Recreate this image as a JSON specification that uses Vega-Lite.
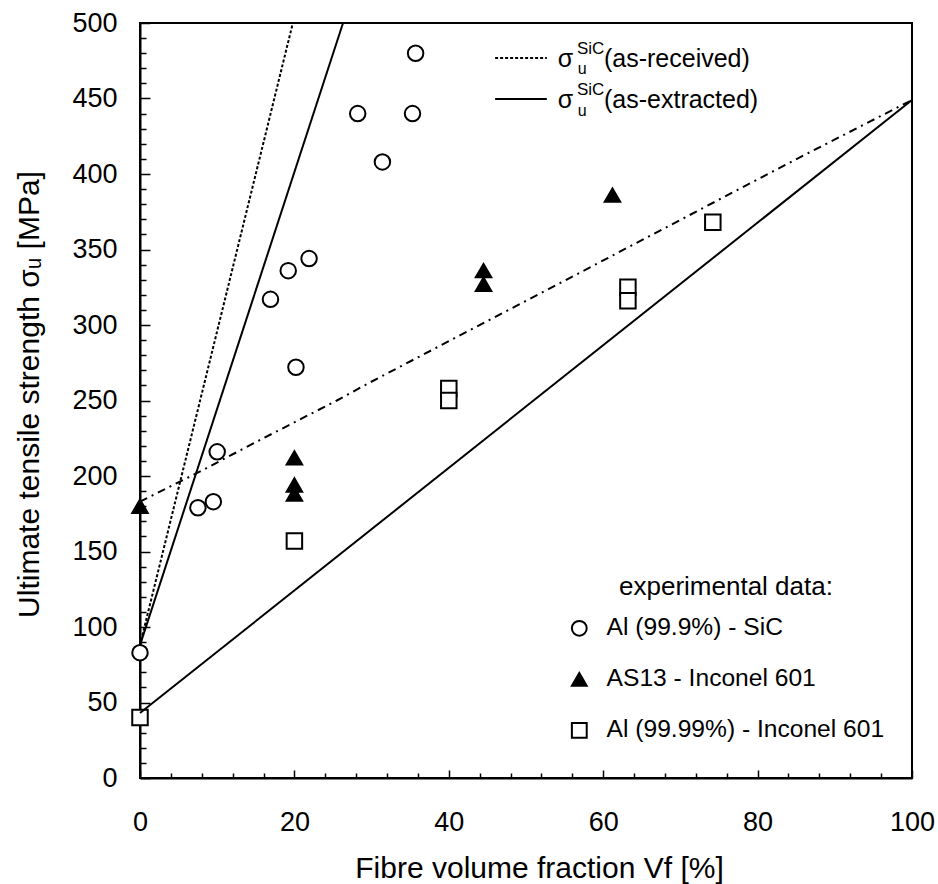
{
  "$schema": "https://vega.github.io/schema/vega-lite/v6.json",
  "width": 772,
  "height": 755,
  "autosize": "none",
  "padding": {"left": 140, "top": 23, "right": 26, "bottom": 106},
  "background": "white",
  "config": {
    "view": {"stroke": "black", "strokeWidth": 2},
    "font": "Liberation Sans",
    "axis": {
      "grid": false,
      "domainColor": "black",
      "domainWidth": 2,
      "tickColor": "black",
      "tickWidth": 1.5,
      "labelColor": "black",
      "titleColor": "black",
      "labelFont": "Liberation Sans",
      "titleFont": "Liberation Sans",
      "labelFontSize": 27,
      "titleFontSize": 30,
      "titleFontWeight": "normal",
      "labelOverlap": false,
      "labelFlush": false
    }
  },
  "datasets": {
    "points": [
      {"vf": 0, "s": 83, "series": "Al (99.9%) - SiC"},
      {"vf": 7.5, "s": 179, "series": "Al (99.9%) - SiC"},
      {"vf": 9.5, "s": 183, "series": "Al (99.9%) - SiC"},
      {"vf": 10, "s": 216, "series": "Al (99.9%) - SiC"},
      {"vf": 16.9, "s": 317, "series": "Al (99.9%) - SiC"},
      {"vf": 19.2, "s": 336, "series": "Al (99.9%) - SiC"},
      {"vf": 21.9, "s": 344, "series": "Al (99.9%) - SiC"},
      {"vf": 20.2, "s": 272, "series": "Al (99.9%) - SiC"},
      {"vf": 28.2, "s": 440, "series": "Al (99.9%) - SiC"},
      {"vf": 31.4, "s": 408, "series": "Al (99.9%) - SiC"},
      {"vf": 35.3, "s": 440, "series": "Al (99.9%) - SiC"},
      {"vf": 35.7, "s": 480, "series": "Al (99.9%) - SiC"},
      {"vf": 0, "s": 180, "series": "AS13 - Inconel 601"},
      {"vf": 20, "s": 212, "series": "AS13 - Inconel 601"},
      {"vf": 20, "s": 194, "series": "AS13 - Inconel 601"},
      {"vf": 20, "s": 188, "series": "AS13 - Inconel 601"},
      {"vf": 44.5, "s": 336, "series": "AS13 - Inconel 601"},
      {"vf": 44.5, "s": 327, "series": "AS13 - Inconel 601"},
      {"vf": 61.2, "s": 386, "series": "AS13 - Inconel 601"},
      {"vf": 0, "s": 40, "series": "Al (99.99%) - Inconel 601"},
      {"vf": 20, "s": 157, "series": "Al (99.99%) - Inconel 601"},
      {"vf": 40, "s": 258, "series": "Al (99.99%) - Inconel 601"},
      {"vf": 40, "s": 250, "series": "Al (99.99%) - Inconel 601"},
      {"vf": 63.2, "s": 325, "series": "Al (99.99%) - Inconel 601"},
      {"vf": 63.2, "s": 316, "series": "Al (99.99%) - Inconel 601"},
      {"vf": 74.2, "s": 368, "series": "Al (99.99%) - Inconel 601"}
    ],
    "received": [{"vf": 0, "s": 88}, {"vf": 19.8, "s": 500}],
    "extracted": [{"vf": 0, "s": 88}, {"vf": 26.3, "s": 500}],
    "lower": [{"vf": 0, "s": 43}, {"vf": 100, "s": 449}],
    "mixed": [
      {"vf": 0, "s": 183}, {"vf": 7.4, "s": 202}, {"vf": 15.6, "s": 224},
      {"vf": 25.5, "s": 250}, {"vf": 29.8, "s": 262}, {"vf": 54.5, "s": 328},
      {"vf": 73.5, "s": 379}, {"vf": 84.7, "s": 409}, {"vf": 100, "s": 449}
    ],
    "one": [{}]
  },
  "layer": [
    {
      "data": {"name": "points"},
      "mark": {"type": "point", "filled": true, "stroke": "black", "strokeWidth": 2, "size": 240, "opacity": 1},
      "encoding": {
        "x": {"field": "vf", "type": "quantitative", "scale": {"domain": [0, 100], "nice": false},
              "axis": {"values": [0,4,8,12,16,20,24,28,32,36,40,44,48,52,56,60,64,68,72,76,80,84,88,92,96,100],
                       "tickCount": 200,
                       "format": "d",
                       "labelExpr": "datum.value % 20 === 0 ? datum.label : ''",
                       "tickSize": {"condition": {"test": "datum.value % 20 === 0", "value": -8}, "value": -5},
                       "labelPadding": 39,
                       "title": "Fibre volume fraction Vf  [%]", "titleX": 399, "titleY": 99, "titleBaseline": "alphabetic"}},
        "y": {"field": "s", "type": "quantitative", "scale": {"domain": [0, 500], "nice": false},
              "axis": {"values": [0,10,20,30,40,50,60,70,80,90,100,110,120,130,140,150,160,170,180,190,200,210,220,230,240,250,260,270,280,290,300,310,320,330,340,350,360,370,380,390,400,410,420,430,440,450,460,470,480,490,500],
                       "tickCount": 200,
                       "format": "d",
                       "labelExpr": "datum.value % 50 === 0 ? datum.label : ''",
                       "tickSize": {"condition": {"test": "datum.value % 50 === 0", "value": -10}, "value": -6},
                       "labelPadding": 33,
                       "title": "Ultimate tensile strength σᵤ [MPa]", "titleX": -102, "titleY": 371, "titleBaseline": "alphabetic"}},
        "shape": {"field": "series", "type": "nominal",
                  "scale": {"domain": ["Al (99.9%) - SiC", "AS13 - Inconel 601", "Al (99.99%) - Inconel 601"], "range": ["circle", "triangle-up", "square"]},
                  "legend": {"orient": "none", "legendX": 427, "legendY": 551, "title": "experimental data:", "titleFontSize": 26, "titleFont": "Liberation Sans", "titleFontWeight": "normal", "titleColor": "black", "titleAnchor": "middle", "titlePadding": 16, "titleLimit": 500, "labelFontSize": 24.6, "labelFont": "Liberation Sans", "labelColor": "black", "labelLimit": 500, "symbolSize": 220, "symbolStrokeColor": "black", "symbolStrokeWidth": 2, "symbolOpacity": 1, "rowPadding": 26, "labelOffset": 15, "padding": 0,
                             "encode": {"symbols": {"update": {"stroke": {"value": "black"}, "strokeWidth": {"value": 2}}}}}},
        "fill": {"field": "series", "type": "nominal",
                 "scale": {"domain": ["Al (99.9%) - SiC", "AS13 - Inconel 601", "Al (99.99%) - Inconel 601"], "range": ["white", "black", "white"]},
                 "legend": {"orient": "none", "legendX": 427, "legendY": 551, "title": "experimental data:", "titleFontSize": 26, "titleFont": "Liberation Sans", "titleFontWeight": "normal", "titleColor": "black", "titleAnchor": "middle", "titlePadding": 16, "titleLimit": 500, "labelFontSize": 24.6, "labelFont": "Liberation Sans", "labelColor": "black", "labelLimit": 500, "symbolSize": 220, "symbolStrokeColor": "black", "symbolStrokeWidth": 2, "symbolOpacity": 1, "rowPadding": 26, "labelOffset": 15, "padding": 0,
                            "encode": {"symbols": {"update": {"stroke": {"value": "black"}, "strokeWidth": {"value": 2}}}}}}
      }
    },
    {
      "data": {"name": "lower"},
      "mark": {"type": "line", "color": "black", "strokeWidth": 2},
      "encoding": {
        "x": {"field": "vf", "type": "quantitative"},
        "y": {"field": "s", "type": "quantitative"}
      }
    },
    {
      "data": {"name": "extracted"},
      "mark": {"type": "line", "color": "black", "strokeWidth": 2},
      "encoding": {
        "x": {"field": "vf", "type": "quantitative"},
        "y": {"field": "s", "type": "quantitative"}
      }
    },
    {
      "data": {"name": "received"},
      "mark": {"type": "line", "color": "black", "strokeWidth": 2, "strokeDash": [3, 2]},
      "encoding": {
        "x": {"field": "vf", "type": "quantitative"},
        "y": {"field": "s", "type": "quantitative"}
      }
    },
    {
      "data": {"name": "mixed"},
      "mark": {"type": "line", "color": "black", "strokeWidth": 2, "strokeDash": [8, 5, 2, 5]},
      "encoding": {
        "x": {"field": "vf", "type": "quantitative"},
        "y": {"field": "s", "type": "quantitative"}
      }
    },
    {
      "data": {"name": "one"},
      "mark": {"type": "rule", "color": "black", "strokeWidth": 2, "strokeDash": [3, 2]},
      "encoding": {
        "x": {"datum": 46.0, "type": "quantitative"},
        "x2": {"datum": 52.7},
        "y": {"datum": 476.8, "type": "quantitative"}
      }
    },
    {
      "data": {"name": "one"},
      "mark": {"type": "rule", "color": "black", "strokeWidth": 2},
      "encoding": {
        "x": {"datum": 46.0, "type": "quantitative"},
        "x2": {"datum": 52.7},
        "y": {"datum": 449.7, "type": "quantitative"}
      }
    },
    {
      "data": {"name": "one"},
      "mark": {"type": "text", "align": "left", "baseline": "alphabetic", "fontSize": 25, "font": "Liberation Sans", "color": "black"},
      "encoding": {
        "x": {"datum": 54.1, "type": "quantitative"},
        "y": {"datum": 470.9, "type": "quantitative"},
        "text": {"value": "σ"}
      }
    },
    {
      "data": {"name": "one"},
      "mark": {"type": "text", "align": "left", "baseline": "alphabetic", "fontSize": 17, "font": "Liberation Sans", "color": "black"},
      "encoding": {
        "x": {"datum": 56.6, "type": "quantitative"},
        "y": {"datum": 479.5, "type": "quantitative"},
        "text": {"value": "SiC"}
      }
    },
    {
      "data": {"name": "one"},
      "mark": {"type": "text", "align": "left", "baseline": "alphabetic", "fontSize": 16, "font": "Liberation Sans", "color": "black"},
      "encoding": {
        "x": {"datum": 56.7, "type": "quantitative"},
        "y": {"datum": 466.2, "type": "quantitative"},
        "text": {"value": "u"}
      }
    },
    {
      "data": {"name": "one"},
      "mark": {"type": "text", "align": "left", "baseline": "alphabetic", "fontSize": 25, "font": "Liberation Sans", "color": "black"},
      "encoding": {
        "x": {"datum": 60.1, "type": "quantitative"},
        "y": {"datum": 470.9, "type": "quantitative"},
        "text": {"value": "(as-received)"}
      }
    },
    {
      "data": {"name": "one"},
      "mark": {"type": "text", "align": "left", "baseline": "alphabetic", "fontSize": 25, "font": "Liberation Sans", "color": "black"},
      "encoding": {
        "x": {"datum": 54.1, "type": "quantitative"},
        "y": {"datum": 443.7, "type": "quantitative"},
        "text": {"value": "σ"}
      }
    },
    {
      "data": {"name": "one"},
      "mark": {"type": "text", "align": "left", "baseline": "alphabetic", "fontSize": 17, "font": "Liberation Sans", "color": "black"},
      "encoding": {
        "x": {"datum": 56.6, "type": "quantitative"},
        "y": {"datum": 452.3, "type": "quantitative"},
        "text": {"value": "SiC"}
      }
    },
    {
      "data": {"name": "one"},
      "mark": {"type": "text", "align": "left", "baseline": "alphabetic", "fontSize": 16, "font": "Liberation Sans", "color": "black"},
      "encoding": {
        "x": {"datum": 56.7, "type": "quantitative"},
        "y": {"datum": 438.4, "type": "quantitative"},
        "text": {"value": "u"}
      }
    },
    {
      "data": {"name": "one"},
      "mark": {"type": "text", "align": "left", "baseline": "alphabetic", "fontSize": 25, "font": "Liberation Sans", "color": "black"},
      "encoding": {
        "x": {"datum": 60.1, "type": "quantitative"},
        "y": {"datum": 443.7, "type": "quantitative"},
        "text": {"value": "(as-extracted)"}
      }
    }
  ]
}
